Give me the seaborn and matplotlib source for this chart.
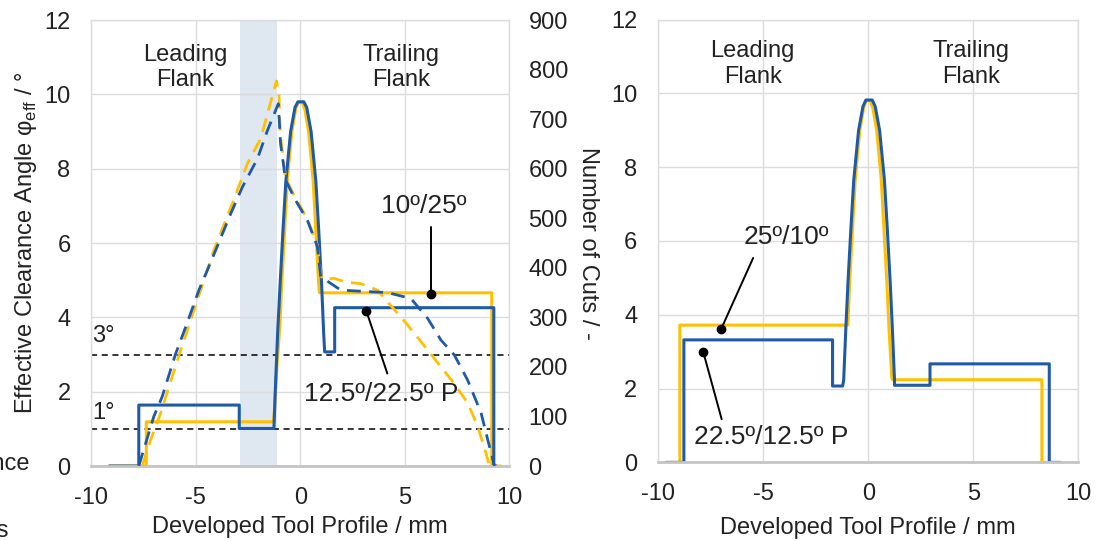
import numpy as np
import pandas as pd
import seaborn as sns
import matplotlib.pyplot as plt

YELLOW = '#FFC000'
BLUE = '#1F5AA8'

# left panel: effective clearance angle (solid lines, left axis, degrees)
l_yel_x = [-9.14, -7.37, -7.37, -1.27, -1.1, -0.98, -0.88, -0.75, -0.62, -0.52, -0.4, -0.22, -0.1, 0.1,
           0.22, 0.4, 0.52, 0.62, 0.75, 0.88, 0.92, 0.92, 9.17, 9.17, 9.6]
l_yel_y = [0, 0, 1.19, 1.19, 2.8, 3.72, 4.94, 6.3, 7.65, 8.3, 9.0, 9.6, 9.78, 9.78,
           9.6, 9.0, 8.3, 7.65, 6.3, 4.94, 4.66, 4.66, 4.66, 0, 0]
l_blu_x = [-9.14, -7.73, -7.73, -2.92, -2.92, -1.26, -1.18, -1.08, -0.96, -0.83, -0.69, -0.58, -0.46, -0.25,
           -0.11, 0.17, 0.31, 0.52, 0.64, 0.75, 0.89, 1.02, 1.12, 1.17, 1.65, 1.65, 9.27, 9.27, 9.4]
l_blu_y = [0, 0, 1.64, 1.64, 1.01, 1.01, 2.23, 3.6, 4.94, 6.3, 7.65, 8.3, 9.0, 9.65,
           9.8, 9.8, 9.65, 9.0, 8.3, 7.65, 6.3, 4.94, 3.6, 3.07, 3.07, 4.26, 4.26, 0, 0]

# left panel: number of cuts (dashed lines, right axis)
cut_yel_x = [-7.57, -7.17, -6.69, -5.81, -4.13, -3.25, -2.53, -1.89, -1.14, -1.02, -0.95, -0.7, -0.22, 0.34,
             0.82, 1.0, 1.14, 1.6, 2.2, 2.9, 3.7, 4.18, 4.82, 5.46, 6.1, 6.74, 7.38, 8.02, 8.5, 8.9, 9.06]
cut_yel = [0, 52, 106, 223, 436, 530, 610, 661, 777, 751, 668, 581, 540, 499,
           446, 383, 375, 379, 371, 368, 355, 331, 301, 268, 234, 200, 166, 127, 80, 25, 0]
cut_blu_x = [-7.73, -7.01, -6.61, -5.97, -5.49, -4.85, -4.21, -3.33, -2.77, -2.05, -1.57, -1.05, -0.94, -0.7,
             -0.22, 0.34, 0.82, 0.98, 1.94, 3.22, 4.18, 5.3, 6.1, 6.74, 7.38, 8.02, 8.66, 8.98, 9.3]
cut_blu = [0, 100, 140, 226, 280, 355, 419, 509, 563, 620, 677, 731, 650, 577,
           536, 496, 443, 382, 355, 352, 350, 338, 298, 254, 224, 173, 107, 53, 0]

# right panel: effective clearance angle
r_yel_x = [-9.63, -8.97, -8.97, -0.97, -0.88, -0.75, -0.62, -0.52, -0.4, -0.22, -0.1, 0.1, 0.22, 0.4,
           0.52, 0.62, 0.75, 0.88, 0.99, 1.12, 1.16, 8.27, 8.27, 8.56]
r_yel_y = [0, 0, 3.72, 3.72, 4.94, 6.3, 7.65, 8.3, 9.0, 9.6, 9.8, 9.8, 9.6, 9.0,
           8.3, 7.65, 6.3, 4.94, 3.6, 2.3, 2.24, 2.24, 0, 0]
r_blu_x = [-9.63, -8.78, -8.78, -1.7, -1.7, -1.22, -1.17, -1.07, -0.96, -0.83, -0.69, -0.58, -0.46, -0.25,
           -0.11, 0.19, 0.33, 0.54, 0.66, 0.77, 0.91, 1.04, 1.15, 1.25, 1.25, 2.94, 2.94, 8.62, 8.62, 9.15]
r_blu_y = [0, 0, 3.32, 3.32, 2.07, 2.07, 2.23, 3.6, 4.94, 6.3, 7.65, 8.3, 9.0, 9.65,
           9.82, 9.82, 9.65, 9.0, 8.3, 7.65, 6.3, 4.94, 3.6, 2.23, 2.09, 2.09, 2.67, 2.67, 0, 0]

x_ticks = [-10, -5, 0, 5, 10]
y_ticks = [0, 2, 4, 6, 8, 10, 12]
cut_ticks = list(range(0, 1000, 100))

sns.set_theme(style='whitegrid')
plt.rcParams['font.family'] = ['Liberation Sans', 'DejaVu Sans']
plt.rcParams['font.size'] = 17
plt.rcParams['axes.unicode_minus'] = False

TXT = '#222222'
FS = 17
FS_ANN = 19

fig = plt.figure(figsize=(11.05, 5.41), dpi=100)
ax1 = fig.add_axes([0.0827, 0.1386, 0.378, 0.8244])
ax3 = fig.add_axes([0.5957, 0.1453, 0.3801, 0.8185])


def style_axes(ax, labelpad):
    ax.set_xlim(-10, 10)
    ax.set_ylim(0, 12)
    ax.set_xticks(x_ticks)
    ax.set_yticks(y_ticks)
    ax.grid(True, color='#dcdcdc', lw=1)
    for s in ['left', 'right', 'top']:
        ax.spines[s].set_color('#dcdcdc')
        ax.spines[s].set_linewidth(1)
    ax.spines['bottom'].set_color('#c4c4c4')
    ax.spines['bottom'].set_linewidth(2)
    ax.tick_params(axis='both', labelsize=FS, pad=15, length=0, colors=TXT)
    ax.set_xlabel('Developed Tool Profile / mm', fontsize=FS, labelpad=labelpad, color=TXT)


# ---- left panel ----
style_axes(ax1, 5.5)
ax1.axvspan(-2.87, -1.11, color='#dfe7f1', zorder=0.5, lw=0)
ax1.axhline(3, color='black', ls=(0, (4, 3)), lw=1.1)
ax1.axhline(1, color='black', ls=(0, (4, 3)), lw=1.1)
ax1.text(-9.95, 3.2, '3°', fontsize=FS, ha='left', va='bottom', color=TXT)
ax1.text(-9.95, 1.12, '1°', fontsize=FS, ha='left', va='bottom', color=TXT)

sns.lineplot(x=l_yel_x, y=l_yel_y, ax=ax1, color=YELLOW, lw=2.2, sort=False, estimator=None)
sns.lineplot(x=l_blu_x, y=l_blu_y, ax=ax1, color=BLUE, lw=2.2, sort=False, estimator=None)

ax1.text(-5.52, 10.73, 'Leading\nFlank', ha='center', va='center', fontsize=FS, linespacing=1.2, color=TXT)
ax1.text(4.82, 10.73, 'Trailing\nFlank', ha='center', va='center', fontsize=FS, linespacing=1.2, color=TXT)

# annotations
ax1.plot([6.27, 6.27], [6.42, 4.62], color='black', lw=1.4)
ax1.plot(6.27, 4.62, 'o', color='black', ms=6)
ax1.text(5.9, 7.0, '10º/25º', ha='center', va='center', fontsize=FS_ANN, color=TXT)
ax1.plot([4.17, 3.16], [2.49, 4.18], color='black', lw=1.4)
ax1.plot(3.16, 4.18, 'o', color='black', ms=6)
ax1.text(3.9, 1.95, '12.5º/22.5º P', ha='center', va='center', fontsize=FS_ANN, color=TXT)

ax1.set_ylabel('Effective Clearance Angle φ$_\\mathregular{eff}$ / °', fontsize=FS, labelpad=4, color=TXT)

ax2 = ax1.twinx()
sns.lineplot(x=cut_yel_x, y=cut_yel, ax=ax2, color=YELLOW, lw=2.0, sort=False, estimator=None,
             linestyle=(0, (5, 3)))
sns.lineplot(x=cut_blu_x, y=cut_blu, ax=ax2, color=BLUE, lw=2.0, sort=False, estimator=None,
             linestyle=(0, (5, 3)))
ax2.set_ylim(0, 900)
ax2.set_yticks(cut_ticks)
ax2.grid(False)
for s in ax2.spines.values():
    s.set_visible(False)
ax2.tick_params(axis='y', labelsize=FS, pad=14, length=0, colors=TXT)
ax2.set_ylabel('Number of Cuts / -', fontsize=FS, rotation=270, labelpad=22, color=TXT)

# ---- right panel ----
style_axes(ax3, 8.5)
sns.lineplot(x=r_yel_x, y=r_yel_y, ax=ax3, color=YELLOW, lw=2.2, sort=False, estimator=None)
sns.lineplot(x=r_blu_x, y=r_blu_y, ax=ax3, color=BLUE, lw=2.2, sort=False, estimator=None)
ax3.text(-5.5, 10.8, 'Leading\nFlank', ha='center', va='center', fontsize=FS, linespacing=1.2, color=TXT)
ax3.text(4.88, 10.8, 'Trailing\nFlank', ha='center', va='center', fontsize=FS, linespacing=1.2, color=TXT)

ax3.plot([-5.48, -7.0], [5.54, 3.62], color='black', lw=1.4)
ax3.plot(-7.0, 3.62, 'o', color='black', ms=6)
ax3.text(-3.92, 6.1, '25º/10º', ha='center', va='center', fontsize=FS_ANN, color=TXT)
ax3.plot([-6.98, -7.86], [1.17, 3.0], color='black', lw=1.4)
ax3.plot(-7.86, 3.0, 'o', color='black', ms=6)
ax3.text(-4.64, 0.68, '22.5º/12.5º P', ha='center', va='center', fontsize=FS_ANN, color=TXT)

# labels cut off at the left border of the original figure
fig.text(30 / 1105, 1 - 464 / 541, 'Tolerance', ha='right', va='center', fontsize=FS, color=TXT)
fig.text(9.5 / 1105, 1 - 531 / 541, 'Cuts', ha='right', va='center', fontsize=FS, color=TXT)

fig.savefig('out.png', dpi=100)
